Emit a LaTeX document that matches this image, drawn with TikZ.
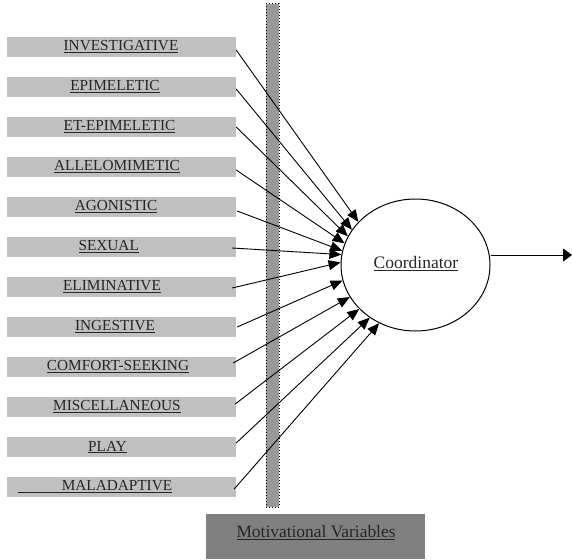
\documentclass[tikz,border=0pt]{standalone}
\usepackage{fontspec}
\setmainfont{Liberation Serif}
\usetikzlibrary{arrows.meta,shapes.geometric}

\definecolor{boxgray}{HTML}{C0C0C0}
\definecolor{bargray}{HTML}{999999}
\definecolor{basegray}{HTML}{808080}

\tikzset{
  catbox/.style={rectangle, fill=boxgray, minimum width=229pt, minimum height=20pt, inner sep=0pt},
  cattext/.style={inner sep=0pt, text=black!85, font=\fontsize{15.3}{18}\selectfont},
  varbar/.style={rectangle, fill=bargray, draw=black, dotted, line width=1pt, minimum width=13pt, minimum height=503pt, inner sep=0pt},
  basebox/.style={rectangle, fill=basegray, minimum width=219pt, minimum height=45pt, inner sep=0pt},
  coordnode/.style={ellipse, draw=black, line width=1pt, minimum width=149pt, minimum height=132pt, inner sep=0pt},
  feed/.style={line width=0.9pt, -{Triangle[length=12pt,width=10pt]}},
}

\begin{document}
\begin{tikzpicture}[x=1pt, y=-1pt]
\useasboundingbox (0,0) rectangle (572,559);

% vertical bar of motivational variables, beneath the connectors
\node[varbar] (bar) at (272.5,255.5) {};
\node[basebox] (base) at (315.5,536.5) {};
\node[inner sep=0pt, text=black!85, font=\fontsize{17.4}{20}\selectfont] (basetxt) at (316,533) {\underline{Motivational Variables}};

% coordinator
\node[coordnode] (coord) at (415.5,265) {};
\node[inner sep=0pt, text=black!85, font=\fontsize{17.5}{20}\selectfont] (coordtxt) at (416,264) {\underline{Coordinator}};

% output
\coordinate (out) at (572,255);
\draw[line width=0.9pt, -{Triangle[length=9pt,width=13pt]}] (coord.east |- out) -- (out);

% behaviour systems: index / label / text centre x / start shift x / start shift y / arrival angle
\foreach \i/\lab/\tx/\sx/\sy/\ang in {
  0/INVESTIGATIVE/121/0/-3/143,
  1/EPIMELETIC/115/0/-2/151,
  2/ET-EPIMELETIC/119.5/0/0/157,
  3/ALLELOMIMETIC/117/0/-3/163,
  4/AGONISTIC/116/1/-4/169,
  5/SEXUAL/108.7/-4/-1/172,
  6/ELIMINATIVE/112/-4/-1/178.5,
  7/INGESTIVE/115/1/0/192,
  8/COMFORT-SEEKING/118/-3/4/206,
  9/MISCELLANEOUS/117/-1/3/218,
  10/PLAY/107.5/0/4/229}
{
  \node[catbox] (b\i) at (121.5,{47+40*\i}) {};
  \node[cattext] (t\i) at (\tx,{47+40*\i}) {\underline{\lab}};
  \draw[feed] ([xshift=\sx pt, yshift=\sy pt]b\i.east) -- (coord.\ang);
}

\node[catbox] (b11) at (121.5,487) {};
\node[cattext] (t11) at (95,487) {\underline{\hspace*{44pt}MALADAPTIVE}};
\draw[feed] ([xshift=-2pt, yshift=-2pt]b11.east) -- (coord.238);

\end{tikzpicture}
\end{document}
